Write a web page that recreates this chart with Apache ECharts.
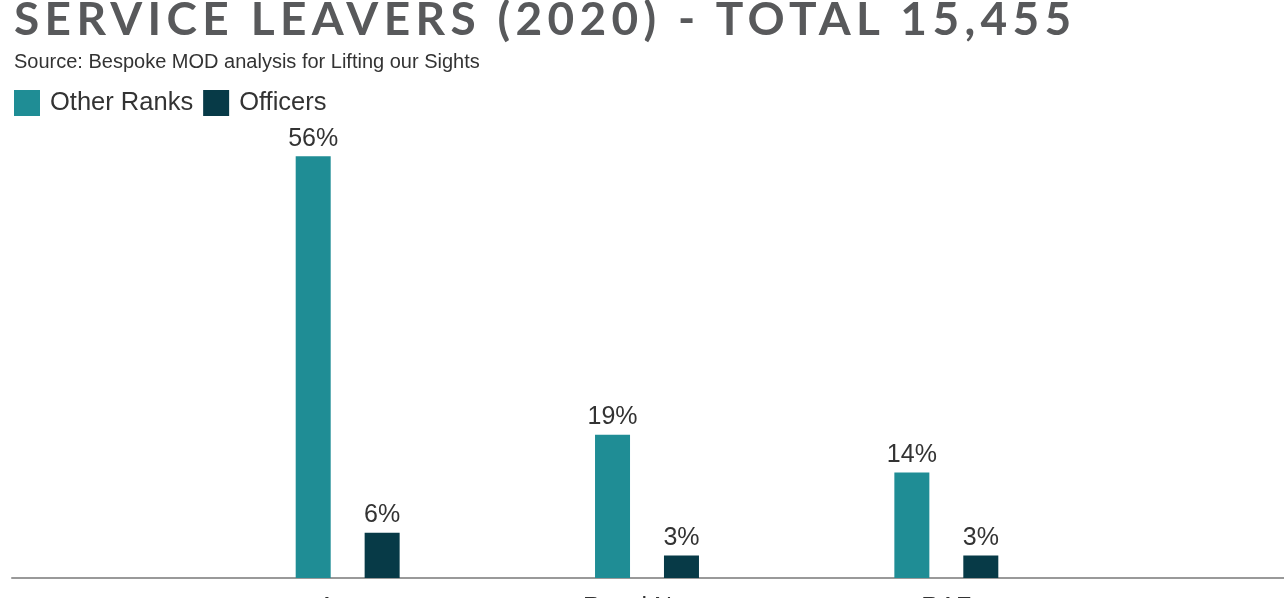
<!DOCTYPE html>
<html>
<head>
<meta charset="utf-8">
<title>Service leavers (2020)</title>
<script src="https://cdn.jsdelivr.net/npm/echarts@6/dist/echarts.min.js"></script>
<style>
  html, body { margin: 0; padding: 0; background: #fff; }
  .wrap { position: relative; width: 1284px; height: 598px; overflow: hidden; }
  #chart { width: 1284px; height: 598px; }
  .heading {
    position: absolute;
    left: 14px;
    top: -10px;
    margin: 0;
    font-family: Lato, sans-serif;
    font-weight: bold;
    font-size: 46px;
    letter-spacing: 5.35px;
    color: #58595b;
    white-space: nowrap;
    z-index: 2;
  }
</style>
</head>
<body>
<div class="wrap">
  <h1 class="heading">SERVICE LEAVERS (2020) - TOTAL 15,455</h1>
  <div id="chart"></div>
</div>
<script>
// data (percent of all leavers)
var categories = ["Army", "Royal Navy", "RAF"];
var otherRanks = [56, 19, 14];
var officers = [6, 3, 3];
var seriesNames = ["Other Ranks", "Officers"];

var chart = echarts.init(document.getElementById("chart"));

var labelStyle = {
  show: true,
  position: "top",
  distance: 5,
  formatter: "{c}%",
  fontFamily: "Liberation Sans, Arial, sans-serif",
  fontSize: 25,
  color: "#333"
};

chart.setOption({
  animation: false,
  title: {
    text: "Source: Bespoke MOD analysis for Lifting our Sights",
    left: 14,
    top: 52,
    padding: 0,
    textStyle: {
      fontFamily: "Liberation Sans, Arial, sans-serif",
      fontWeight: "normal",
      fontSize: 20,
      color: "#333"
    }
  },
  legend: {
    data: seriesNames,
    left: 14,
    top: 90,
    padding: 0,
    itemWidth: 26,
    itemHeight: 26,
    itemGap: 10,
    icon: "rect",
    textStyle: {
      fontFamily: "Liberation Sans, Arial, sans-serif",
      fontSize: 25.5,
      color: "#333",
      padding: [0, 0, 0, 5]
    }
  },
  grid: [
    { left: 198, right: 188, top: 126, bottom: 20, outerBoundsMode: "none" },
    { left: 12, right: 0, top: 126, bottom: 20, outerBoundsMode: "none" }
  ],
  xAxis: [
    {
      type: "category",
      gridIndex: 0,
      data: categories,
      axisLine: { show: false },
      axisTick: { show: false },
      axisLabel: {
        margin: 18,
        fontFamily: "Liberation Sans, Arial, sans-serif",
        fontSize: 25,
        color: "#333"
      }
    },
    {
      type: "value",
      gridIndex: 1,
      min: 0,
      max: 1,
      axisLine: { show: true, lineStyle: { color: "#999", width: 2 } },
      axisTick: { show: false },
      axisLabel: { show: false },
      splitLine: { show: false }
    }
  ],
  yAxis: [
    { type: "value", gridIndex: 0, min: 0, max: 60, show: false },
    { type: "value", gridIndex: 1, min: 0, max: 1, show: false }
  ],
  series: [
    {
      name: seriesNames[0],
      type: "bar",
      data: otherRanks,
      barWidth: 35,
      barGap: "97%",
      itemStyle: { color: "#1f8d95" },
      label: labelStyle
    },
    {
      name: seriesNames[1],
      type: "bar",
      data: officers,
      barWidth: 35,
      barGap: "97%",
      itemStyle: { color: "#073a47" },
      label: labelStyle
    }
  ]
});
</script>
</body>
</html>
